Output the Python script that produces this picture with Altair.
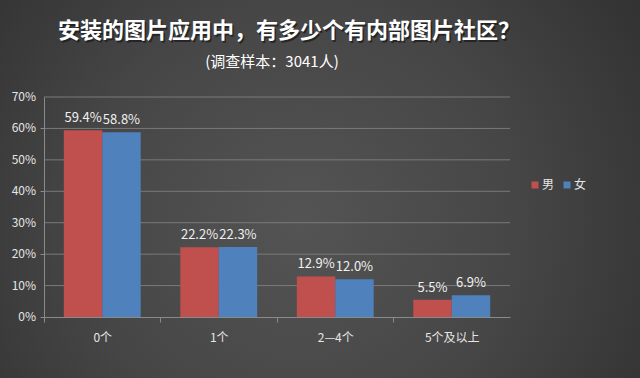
import altair as alt
import pandas as pd

categories = ["0个", "1个", "2—4个", "5个及以上"]
male = [59.4, 22.2, 12.9, 5.5]
female = [58.8, 22.3, 12.0, 6.9]
series = ["男", "女"]
colors = ["#c0504d", "#4f81bd"]
y_ticks = [0, 10, 20, 30, 40, 50, 60, 70]
title_text = "安装的图片应用中，有多少个有内部图片社区？"
subtitle_text = "(调查样本：3041人)"

rows = []
for c, m, f in zip(categories, male, female):
    rows.append({"cat": c, "sex": "男", "v": m, "label": f"{m:.1f}%"})
    rows.append({"cat": c, "sex": "女", "v": f, "label": f"{f:.1f}%"})
df = pd.DataFrame(rows)
tick_df = pd.DataFrame({"v": y_ticks, "t": [f"{t}%" for t in y_ticks]})

FONT = "Noto Sans CJK SC"
W, H = 466, 220
PL, PT, PR, PB = 44, 97, 130, 61

bg = alt.Chart(pd.DataFrame({"a": [0]})).mark_rect(
    fill=alt.Gradient(
        gradient="radial",
        stops=[alt.GradientStop(color="#545454", offset=0),
               alt.GradientStop(color="#464646", offset=0.45),
               alt.GradientStop(color="#2a2a2a", offset=1)],
        x1=0.47, y1=0.55, x2=0.47, y2=0.55, r1=0, r2=0.75,
    )
).encode(
    x=alt.value(-PL), x2=alt.value(W + PR), y=alt.value(-PT), y2=alt.value(H + PB)
)

yscale = alt.Scale(domain=[0, 70], nice=False)
yaxis = alt.Axis(title=None, values=y_ticks, labels=False,
                 domainColor="#8a8a8a", tickColor="#8a8a8a",
                 tickSize=4, grid=False, zindex=1)

grid = alt.Chart(tick_df).transform_filter("datum.v > 0").mark_rule(
    color="#7a7a7a", strokeWidth=1
).encode(
    y=alt.Y("v:Q", scale=yscale, axis=yaxis),
    x=alt.value(0), x2=alt.value(W),
)

ylabels = alt.Chart(tick_df).mark_text(
    align="right", baseline="middle", color="#e6e6e6", font=FONT, fontSize=12
).encode(y=alt.Y("v:Q", scale=yscale), x=alt.value(-8), text="t:N")

xenc = alt.X("cat:N", sort=categories,
             scale=alt.Scale(paddingInner=0.34, paddingOuter=0.17),
             axis=alt.Axis(title=None, labelAngle=0, labelColor="#e6e6e6",
                           labelFont=FONT, labelFontSize=12, labelPadding=10,
                           domainColor="#8a8a8a", tickColor="#8a8a8a",
                           tickSize=5, tickOffset=-58.25, labelOffset=58.25,
                           grid=False, zindex=1))
xoff = alt.XOffset("sex:N", sort=series, scale=alt.Scale(paddingInner=0, paddingOuter=0))
yenc = alt.Y("v:Q", scale=yscale, axis=yaxis)

bars = alt.Chart(df).mark_bar().encode(
    x=xenc, xOffset=xoff, y=yenc,
    color=alt.Color("sex:N", sort=series,
                    scale=alt.Scale(domain=series, range=colors),
                    legend=alt.Legend(title=None, orient="none", legendX=485, legendY=82,
                                      direction="horizontal", symbolType="square",
                                      symbolSize=49, symbolStrokeWidth=0,
                                      labelColor="#e6e6e6", labelFont=FONT,
                                      labelFontSize=12, labelOffset=1, columnPadding=6)),
)

labels = alt.Chart(df).mark_text(
    baseline="bottom", dy=-5, color="#f0f0f0", font=FONT, fontSize=13
).encode(x=alt.X("cat:N", sort=categories), xOffset=alt.XOffset("sex:N", sort=series),
         y="v:Q", text="label:N")

tdf = pd.DataFrame({"t": [title_text], "s": [subtitle_text]})
title_shadow = alt.Chart(tdf).mark_text(
    font=FONT, fontSize=22, fontWeight="bold", color="#111111", opacity=0.6
).encode(x=alt.value(289 - PL + 1.5), y=alt.value(31 - PT + 1.5), text="t:N")
title = alt.Chart(tdf).mark_text(
    font=FONT, fontSize=22, fontWeight="bold", color="#ffffff"
).encode(x=alt.value(289 - PL), y=alt.value(31 - PT), text="t:N")
subtitle = alt.Chart(tdf).mark_text(
    font=FONT, fontSize=15, color="#ffffff"
).encode(x=alt.value(272 - PL), y=alt.value(62 - PT), text="s:N")

chart = alt.layer(bg, grid, bars, labels, ylabels, title_shadow, title, subtitle).properties(
    width=W, height=H,
    padding={"left": PL, "top": PT, "right": PR, "bottom": PB},
    autosize=alt.AutoSizeParams(type="none"),
    background="#3a3a3a",
).configure_view(stroke=None).configure_axis(labelOverlap=False)

chart.save("out.html", embed_options={"renderer": "svg", "actions": False})
